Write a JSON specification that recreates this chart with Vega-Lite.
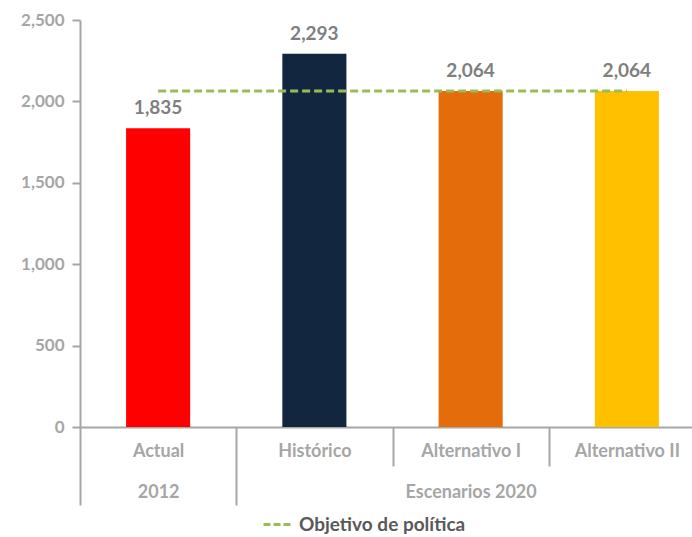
{
  "$schema": "https://vega.github.io/schema/vega-lite/v6.json",
  "width": 612,
  "height": 407,
  "autosize": {"type": "none"},
  "padding": {"left": 80, "top": 20, "right": 0, "bottom": 110},
  "config": {"view": {"stroke": null}, "font": "Lato"},
  "data": {"values": [
    {"categoria": "Actual", "valor": 1835, "objetivo": 2064},
    {"categoria": "Histórico", "valor": 2293, "objetivo": 2064},
    {"categoria": "Alternativo I", "valor": 2064, "objetivo": 2064},
    {"categoria": "Alternativo II", "valor": 2064, "objetivo": 2064}
  ]},
  "encoding": {
    "x": {
      "field": "categoria", "type": "nominal", "sort": null,
      "scale": {"range": [0, 625], "paddingInner": 0, "paddingOuter": 0},
      "axis": {
        "title": null, "labelAngle": 0, "tickBand": "extent",
        "tickSize": {"condition": {"test": "datum.value === 'Actual' || datum.extra", "value": 78}, "value": 39},
        "labelPadding": {"condition": {"test": "datum.value === 'Actual'", "value": -63}, "value": -24},
        "tickColor": "#A6A6A6", "tickWidth": 2, "domainColor": "#A6A6A6", "domainWidth": 2,
        "labelFont": "Lato", "labelFontWeight": "bold", "labelFontSize": 18, "labelColor": "#A6A6A6",
        "labelLineHeight": 41, "labelBaseline": "top",
        "labelExpr": "datum.value === 'Actual' ? ['Actual', '2012'] : datum.value === 'Alternativo I' ? ['Alternativo I', 'Escenarios 2020'] : datum.value"
      }
    }
  },
  "layer": [
    {
      "mark": {"type": "bar", "width": {"band": 0.41}},
      "encoding": {
        "y": {"field": "valor", "type": "quantitative", "scale": {"domain": [0, 2500], "nice": false},
          "axis": {"title": null, "grid": false, "values": [0, 500, 1000, 1500, 2000, 2500], "format": ",d",
            "labelFont": "Lato", "labelFontWeight": "bold", "labelFontSize": 17, "labelColor": "#A6A6A6",
            "domainColor": "#A6A6A6", "domainWidth": 2, "tickColor": "#A6A6A6", "tickWidth": 2, "tickSize": 8, "labelPadding": 8}},
        "fill": {"field": "categoria", "type": "nominal", "sort": null,
          "scale": {"domain": ["Actual", "Histórico", "Alternativo I", "Alternativo II"], "range": ["#FF0000", "#13263F", "#E46C0A", "#FFC000"]},
          "legend": null}
      }
    },
    {
      "mark": {"type": "text", "dy": -10, "baseline": "bottom", "fontWeight": "bold", "fontSize": 19, "color": "#7F7F7F", "font": "Lato"},
      "encoding": {
        "y": {"field": "valor", "type": "quantitative"},
        "text": {"field": "valor", "type": "quantitative", "format": ",d"}
      }
    },
    {
      "mark": {"type": "line", "strokeDash": [8, 4], "strokeWidth": 3},
      "encoding": {
        "y": {"field": "objetivo", "type": "quantitative"},
        "stroke": {"datum": "Objetivo de política", "scale": {"range": ["#9BBB59"]},
          "legend": {"title": null, "orient": "none", "legendX": 182, "legendY": 488, "symbolDash": [7, 3], "symbolStrokeWidth": 3, "symbolType": "stroke", "symbolSize": 900,
            "labelFont": "Lato", "labelFontWeight": "bold", "labelFontSize": 19, "labelColor": "#595959", "labelLimit": 400}}
      }
    }
  ]
}
